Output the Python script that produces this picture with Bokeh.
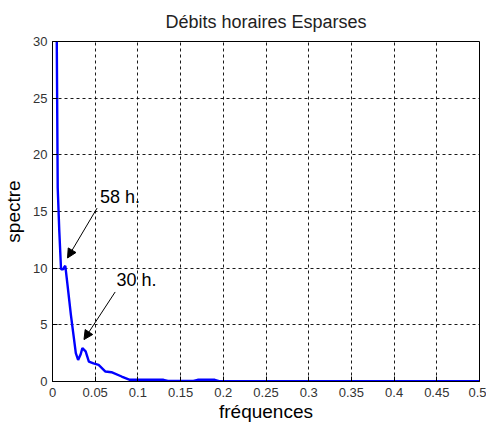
from bokeh.plotting import figure
from bokeh.models import Range1d, FixedTicker, Arrow, NormalHead, Label
from bokeh.embed import file_html
from bokeh.resources import INLINE

freq = [0.0045, 0.005, 0.0061, 0.008, 0.010, 0.0125, 0.0138, 0.015, 0.0176, 0.0215,
        0.0273, 0.030, 0.033, 0.035, 0.0388, 0.0426, 0.048, 0.054, 0.062, 0.069,
        0.081, 0.0906, 0.10, 0.13, 0.135, 0.14, 0.165, 0.17, 0.19, 0.195, 0.5]
spectre = [60, 30, 17.1, 13.2, 9.9, 9.9, 10.1, 10.2, 8.5, 5.9,
           2.5, 1.9, 2.4, 2.94, 2.65, 1.76, 1.6, 1.47, 0.88, 0.82,
           0.44, 0.15, 0.15, 0.15, 0.05, 0.05, 0.05, 0.15, 0.15, 0.03, 0.03]

x_ticks = [0, 0.05, 0.1, 0.15, 0.2, 0.25, 0.3, 0.35, 0.4, 0.45, 0.5]
x_tick_labels = ["0", "0.05", "0.1", "0.15", "0.2", "0.25", "0.3", "0.35", "0.4", "0.45", "0.5"]
y_ticks = [0, 5, 10, 15, 20, 25, 30]

annotations = [
    # text, text_x, text_y, arrow_from_x, arrow_from_y, arrow_to_x, arrow_to_y
    ("58 h.", 0.0555, 16.3, 0.0522, 15.3, 0.0176, 10.9),
    ("30 h.", 0.075, 9.0, 0.0734, 7.9, 0.0369, 3.7),
]

FONT = "Liberation Sans"

p = figure(width=486, height=424, output_backend="svg", toolbar_location=None,
           x_range=Range1d(0, 0.5), y_range=Range1d(0, 30),
           min_border_left=45, min_border_right=7, min_border_top=40, min_border_bottom=39,
           title="Débits horaires Esparses")
p.title.align = "center"
p.title.text_font = FONT
p.title.text_font_size = "18px"
p.title.text_font_style = "normal"
p.title.text_color = "#222222"
p.title.standoff = 19

p.line(freq, spectre, line_color="#0000FF", line_width=2.4)

for txt, tx, ty, fx, fy, ex, ey in annotations:
    p.add_layout(Arrow(end=NormalHead(size=9, fill_color="black", line_color="black"),
                       x_start=fx, y_start=fy, x_end=ex, y_end=ey,
                       line_color="black", line_width=1))
    p.add_layout(Label(x=tx, y=ty, text=txt, text_font=FONT, text_font_size="18px",
                       text_baseline="middle", text_align="left", text_color="black"))

p.xaxis.ticker = FixedTicker(ticks=x_ticks)
p.xaxis.major_label_overrides = {t: l for t, l in zip(x_ticks, x_tick_labels)}
p.yaxis.ticker = FixedTicker(ticks=y_ticks)

for ax in (p.xaxis, p.yaxis):
    ax.major_tick_in = 5
    ax.major_tick_out = 0
    ax.minor_tick_line_color = None
    ax.axis_line_color = "black"
    ax.major_tick_line_color = "black"
    ax.major_label_text_font = FONT
    ax.major_label_text_font_size = "13px"
    ax.major_label_text_color = "#333333"
    ax.axis_label_text_font = FONT
    ax.axis_label_text_font_size = "19px"
    ax.axis_label_text_font_style = "normal"
    ax.axis_label_text_color = "black"

p.xaxis.axis_label = "fréquences"
p.yaxis.axis_label = "spectre"
p.xaxis.major_label_standoff = 6
p.yaxis.major_label_standoff = 5
p.xaxis.axis_label_standoff = 1
p.yaxis.axis_label_standoff = 6

p.grid.grid_line_color = "black"
p.grid.grid_line_dash = "3 3"
p.grid.grid_line_alpha = 0.9
p.outline_line_color = "black"
p.outline_line_width = 1
p.background_fill_color = "white"
p.border_fill_color = "white"

open("out.html", "w").write(file_html(p, INLINE))
